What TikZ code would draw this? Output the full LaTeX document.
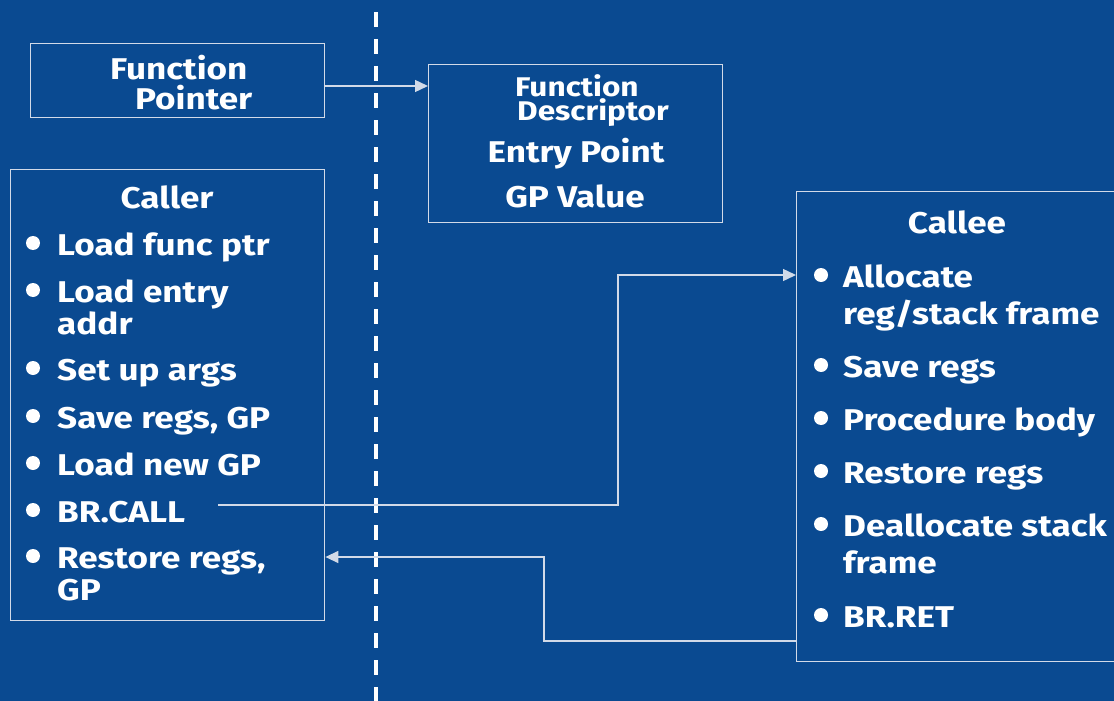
\documentclass[tikz,border=0pt]{standalone}
\usepackage{fontspec}
\setmainfont[FakeStretch=1.17]{Fira Sans}
\usetikzlibrary{arrows.meta,positioning,calc}
\definecolor{bg}{HTML}{0A4A91}
\definecolor{edge}{HTML}{D2DAE8}
\begin{document}
\begin{tikzpicture}[x=1pt,y=-1pt,
  box/.style={draw=edge,line width=1.4pt,inner sep=0pt,anchor=north west},
  txt/.style={text=white,font=\fontsize{30}{36}\selectfont\bfseries,inner sep=0pt,anchor=base west},
  stxt/.style={text=white,font=\fontsize{27}{32}\selectfont\bfseries,inner sep=0pt,anchor=base west},
  ctxt/.style={text=white,font=\fontsize{30}{36}\selectfont\bfseries,inner sep=0pt,anchor=base},
  conn/.style={draw=edge,line width=1.4pt},
  tip/.style={-{Triangle[length=13pt,width=12pt]}},
  bul/.style={fill=white}]
\fill[bg] (0,0) rectangle (1114,701);
\useasboundingbox (0,0) rectangle (1114,701);
\clip (0,0) rectangle (1114,701);
% dashed divider
\draw[white,line width=4pt,dash pattern=on 15pt off 12pt] (376,12) -- (376,705);
% boxes
\node[box,minimum width=294pt,minimum height=74pt] (fp) at (30,43) {};
\node[box,minimum width=294pt,minimum height=158pt] (fd) at (428,64) {};
\node[box,minimum width=314pt,minimum height=451pt] (cr) at (10,169) {};
\node[box,minimum width=340pt,minimum height=470pt] (ce) at (796,191) {};
% function pointer text
\node[txt] (fp1) at (110,79) {Function};
\node[txt] (fp2) at (135,110) {Pointer};
% descriptor text
\node[stxt] (fd1) at (515,96) {Function};
\node[stxt] (fd2) at (517,121) {Descriptor};
\node[ctxt] (fd3) at (576,162) {Entry Point};
\node[ctxt] (fd4) at (575,207) {GP Value};
% caller
\node[ctxt] (crt) at (167,208) {Caller};
\foreach \y/\t [count=\i] in {255/Load func ptr,302/Load entry,380/Set up args,428/{Save regs, GP},475/Load new GP,522/BR.CALL,568/{Restore regs,}}{
  \fill[bul] (33,\y-12) circle (7);
  \node[txt] (cr\i) at (57,\y) {\t};
}
\node[txt] (cra) at (57,334) {addr};
\node[txt] (crb) at (57,600) {GP};
% callee
\node[ctxt] (cet) at (957,233) {Callee};
\foreach \y/\t [count=\i] in {287/Allocate,377/Save regs,430/Procedure body,483/Restore regs,536/Deallocate stack,627/BR.RET}{
  \fill[bul] (821,\y-12) circle (7);
  \node[txt] (ce\i) at (843,\y) {\t};
}
\node[txt] (cea) at (843,324) {reg/stack frame};
\node[txt] (ceb) at (843,573) {frame};
% connectors
\draw[conn,tip] ([yshift=-43pt]fp.north east) -- ([yshift=-22pt]fd.north west);
\coordinate (callstart) at (218,505);
\draw[conn,tip] (callstart) -- (618,505) |- ([yshift=-84pt]ce.north west);
\draw[conn,tip] ([yshift=-450pt]ce.north west) -| (544,557) -- ([yshift=-388pt]cr.north east);
\end{tikzpicture}
\end{document}
